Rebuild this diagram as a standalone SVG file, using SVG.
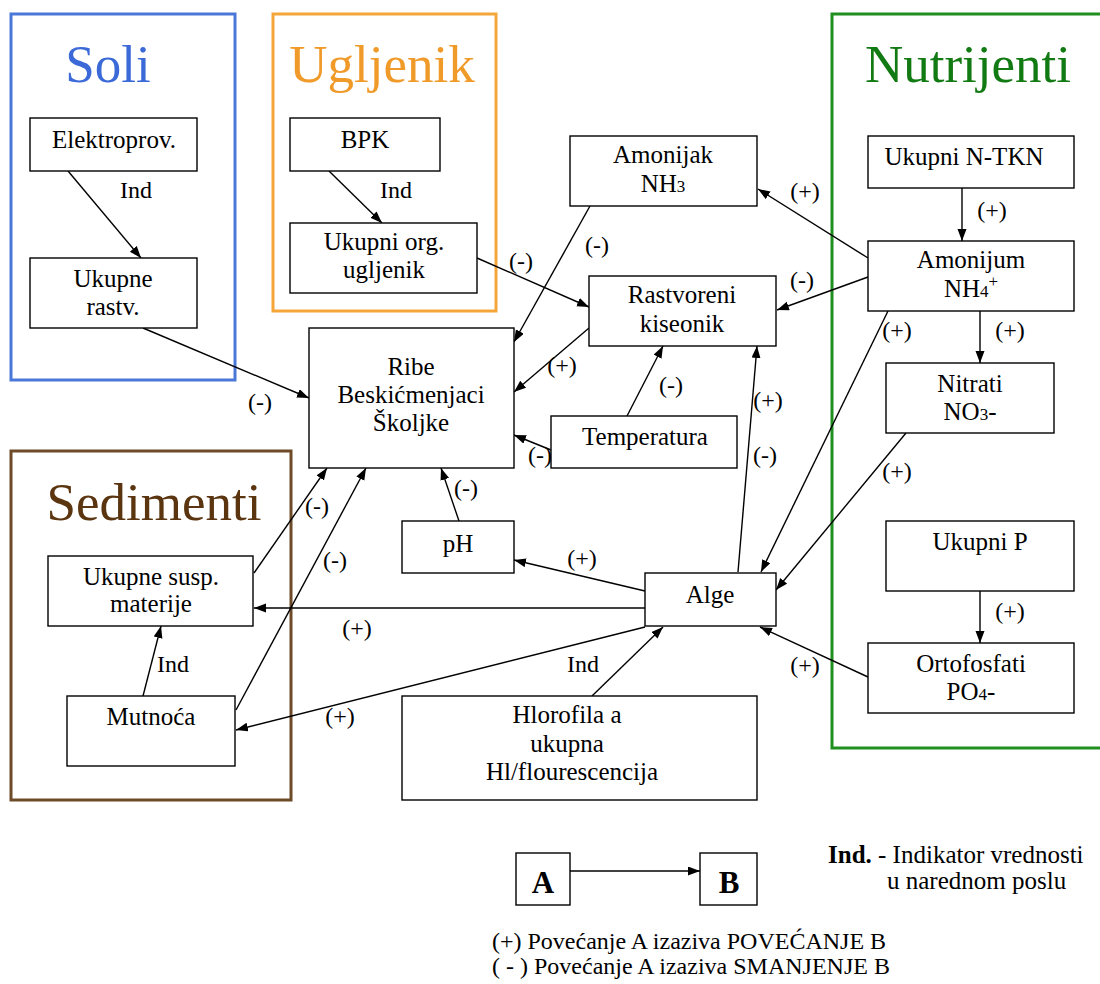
<svg xmlns="http://www.w3.org/2000/svg" width="1100" height="984" viewBox="0 0 1100 984" font-family="'Liberation Serif', 'DejaVu Serif', 'Times New Roman', serif">
  <style>
    .t { font-size: 25px; text-anchor: middle; }
    .lbl { font-size: 24px; text-anchor: middle; }
    .title { font-size: 53px; text-anchor: middle; }
    .box { fill: #fff; stroke: #000; stroke-width: 1.4; }
    .grp { fill: none; stroke-width: 3; }
    .edge { stroke: #000; stroke-width: 1.4; fill: none; marker-end: url(#arrow); }
    .sub { font-size: 17px; }
    .leg { font-size: 25px; }
    .leg2 { font-size: 24px; }
  </style>
  <defs>
    <marker id="arrow" markerUnits="userSpaceOnUse" markerWidth="13" markerHeight="10" refX="12" refY="4.5" orient="auto">
      <path d="M0,0 L12,4.5 L0,9 z" fill="#000"/>
    </marker>
  </defs>

  <rect width="1100" height="984" fill="#fff"/>

  <!-- category frames -->
  <g id="group-soli">
    <rect class="grp" x="11" y="14" width="224" height="366" stroke="#4a78d8"/>
    <text class="title" x="108" y="82" fill="#3b6ad8">Soli</text>
  </g>
  <g id="group-ugljenik">
    <rect class="grp" x="273" y="14" width="223" height="297" stroke="#f4a63a"/>
    <text class="title" x="382" y="82" fill="#f09a2a">Ugljenik</text>
  </g>
  <g id="group-nutrijenti">
    <rect class="grp" x="832" y="14" width="280" height="734" stroke="#1f8f1f"/>
    <text class="title" x="968" y="82" fill="#127a12">Nutrijenti</text>
  </g>
  <g id="group-sedimenti">
    <rect class="grp" x="11" y="451" width="280" height="349" stroke="#6e4b28"/>
    <text class="title" x="154" y="520" fill="#5a3510">Sedimenti</text>
  </g>

  <!-- connectors -->
  <g id="connectors">
    <line class="edge" x1="68" y1="171" x2="141" y2="258"/>
    <line class="edge" x1="329" y1="171" x2="382" y2="223"/>
    <line class="edge" x1="143" y1="328" x2="309" y2="398"/>
    <line class="edge" x1="477" y1="258" x2="589" y2="307"/>
    <line class="edge" x1="590" y1="206" x2="514" y2="342"/>
    <line class="edge" x1="589" y1="328" x2="514" y2="392"/>
    <line class="edge" x1="551" y1="450" x2="514" y2="435"/>
    <line class="edge" x1="627" y1="416" x2="663" y2="346"/>
    <line class="edge" x1="738" y1="572" x2="757" y2="346"/>
    <line class="edge" x1="868" y1="258" x2="758" y2="189"/>
    <line class="edge" x1="868" y1="277" x2="777" y2="310"/>
    <line class="edge" x1="962" y1="188" x2="962" y2="241"/>
    <line class="edge" x1="980" y1="311" x2="980" y2="363"/>
    <line class="edge" x1="888" y1="311" x2="761" y2="572"/>
    <line class="edge" x1="906" y1="433" x2="776" y2="590"/>
    <line class="edge" x1="980" y1="591" x2="980" y2="643"/>
    <line class="edge" x1="868" y1="677" x2="760" y2="627"/>
    <line class="edge" x1="592" y1="696" x2="663" y2="627"/>
    <line class="edge" x1="645" y1="591" x2="514" y2="560"/>
    <line class="edge" x1="459" y1="521" x2="441" y2="468"/>
    <line class="edge" x1="645" y1="608" x2="254" y2="608"/>
    <line class="edge" x1="645" y1="627" x2="236" y2="730"/>
    <line class="edge" x1="254" y1="573" x2="327" y2="468"/>
    <line class="edge" x1="236" y1="710" x2="366" y2="468"/>
    <line class="edge" x1="143" y1="696" x2="161" y2="626"/>

    <text class="lbl" x="136" y="198">Ind</text>
    <text class="lbl" x="396" y="198">Ind</text>
    <text class="lbl" x="260" y="410">(-)</text>
    <text class="lbl" x="521" y="269">(-)</text>
    <text class="lbl" x="597" y="253">(-)</text>
    <text class="lbl" x="562" y="373">(+)</text>
    <text class="lbl" x="540" y="463">(-)</text>
    <text class="lbl" x="671" y="393">(-)</text>
    <text class="lbl" x="768" y="408">(+)</text>
    <text class="lbl" x="765" y="463">(-)</text>
    <text class="lbl" x="805" y="199">(+)</text>
    <text class="lbl" x="802" y="288">(-)</text>
    <text class="lbl" x="992" y="218">(+)</text>
    <text class="lbl" x="897" y="338">(+)</text>
    <text class="lbl" x="1010" y="338">(+)</text>
    <text class="lbl" x="897" y="479">(+)</text>
    <text class="lbl" x="1010" y="619">(+)</text>
    <text class="lbl" x="805" y="673">(+)</text>
    <text class="lbl" x="583" y="672">Ind</text>
    <text class="lbl" x="582" y="566">(+)</text>
    <text class="lbl" x="466" y="496">(-)</text>
    <text class="lbl" x="357" y="636">(+)</text>
    <text class="lbl" x="340" y="724">(+)</text>
    <text class="lbl" x="317" y="514">(-)</text>
    <text class="lbl" x="335" y="568">(-)</text>
    <text class="lbl" x="173" y="672">Ind</text>
  </g>

  <!-- nodes -->
  <g id="elektroprov">
    <rect class="box" x="30" y="118" width="167" height="53"/>
    <text class="t" x="114" y="148">Elektroprov.</text>
  </g>
  <g id="ukupne-rastv">
    <rect class="box" x="30" y="258" width="167" height="70"/>
    <text class="t" x="113" y="287">Ukupne</text>
    <text class="t" x="113" y="315">rastv.</text>
  </g>
  <g id="bpk">
    <rect class="box" x="290" y="118" width="150" height="53"/>
    <text class="t" x="365" y="148">BPK</text>
  </g>
  <g id="ukupni-org-ugljenik">
    <rect class="box" x="290" y="223" width="187" height="70"/>
    <text class="t" x="384" y="250">Ukupni org.</text>
    <text class="t" x="384" y="278">ugljenik</text>
  </g>
  <g id="amonijak">
    <rect class="box" x="570" y="136" width="187" height="70"/>
    <text class="t" x="663" y="163">Amonijak</text>
    <text class="t" x="663" y="192">NH<tspan class="sub">3</tspan></text>
  </g>
  <g id="rastvoreni-kiseonik">
    <rect class="box" x="589" y="276" width="187" height="70"/>
    <text class="t" x="682" y="303">Rastvoreni</text>
    <text class="t" x="682" y="332">kiseonik</text>
  </g>
  <g id="ribe">
    <rect class="box" x="309" y="328" width="205" height="140"/>
    <text class="t" x="411" y="375">Ribe</text>
    <text class="t" x="411" y="403">Beskićmenjaci</text>
    <text class="t" x="411" y="431">Školjke</text>
  </g>
  <g id="temperatura">
    <rect class="box" x="551" y="416" width="186" height="52"/>
    <text class="t" x="645" y="445">Temperatura</text>
  </g>
  <g id="ph">
    <rect class="box" x="402" y="521" width="112" height="52"/>
    <text class="t" x="458" y="552">pH</text>
  </g>
  <g id="alge">
    <rect class="box" x="645" y="573" width="131" height="53"/>
    <text class="t" x="710" y="603">Alge</text>
  </g>
  <g id="hlorofila">
    <rect class="box" x="402" y="696" width="355" height="104"/>
    <text class="t" x="567" y="723">Hlorofila a</text>
    <text class="t" x="567" y="752">ukupna</text>
    <text class="t" x="572" y="780">Hl/flourescencija</text>
  </g>
  <g id="ukupne-susp-materije">
    <rect class="box" x="48" y="556" width="205" height="70"/>
    <text class="t" x="151" y="585">Ukupne susp.</text>
    <text class="t" x="151" y="612">materije</text>
  </g>
  <g id="mutnoca">
    <rect class="box" x="67" y="696" width="168" height="70"/>
    <text class="t" x="151" y="725">Mutnoća</text>
  </g>
  <g id="ukupni-n-tkn">
    <rect class="box" x="868" y="136" width="206" height="52"/>
    <text class="t" x="964" y="165">Ukupni N-TKN</text>
  </g>
  <g id="amonijum">
    <rect class="box" x="868" y="241" width="206" height="70"/>
    <text class="t" x="971" y="268">Amonijum</text>
    <text class="t" x="971" y="297">NH<tspan class="sub">4</tspan><tspan class="sub" dy="-10">+</tspan></text>
  </g>
  <g id="nitrati">
    <rect class="box" x="886" y="363" width="168" height="70"/>
    <text class="t" x="970" y="392">Nitrati</text>
    <text class="t" x="970" y="420">NO<tspan class="sub">3</tspan>-</text>
  </g>
  <g id="ukupni-p">
    <rect class="box" x="886" y="521" width="188" height="70"/>
    <text class="t" x="980" y="550">Ukupni P</text>
  </g>
  <g id="ortofosfati">
    <rect class="box" x="868" y="643" width="206" height="70"/>
    <text class="t" x="971" y="672">Ortofosfati</text>
    <text class="t" x="971" y="700">PO<tspan class="sub">4</tspan>-</text>
  </g>

  <!-- key -->
  <g id="legend">
    <rect class="box" x="516" y="853" width="54" height="52"/>
    <text x="543" y="893" font-size="31" font-weight="bold" text-anchor="middle">A</text>
    <rect class="box" x="700" y="853" width="57" height="52"/>
    <text x="729" y="893" font-size="31" font-weight="bold" text-anchor="middle">B</text>
    <line class="edge" x1="570" y1="871" x2="700" y2="871"/>
    <text class="leg" x="828" y="863"><tspan font-weight="bold">Ind.</tspan> - Indikator vrednosti</text>
    <text class="leg" x="887" y="889">u narednom poslu</text>
    <text class="leg2" x="492" y="949">(+) Povećanje A izaziva POVEĆANJE B</text>
    <text class="leg2" x="492" y="974">( - ) Povećanje A izaziva SMANJENJE B</text>
  </g>
</svg>
